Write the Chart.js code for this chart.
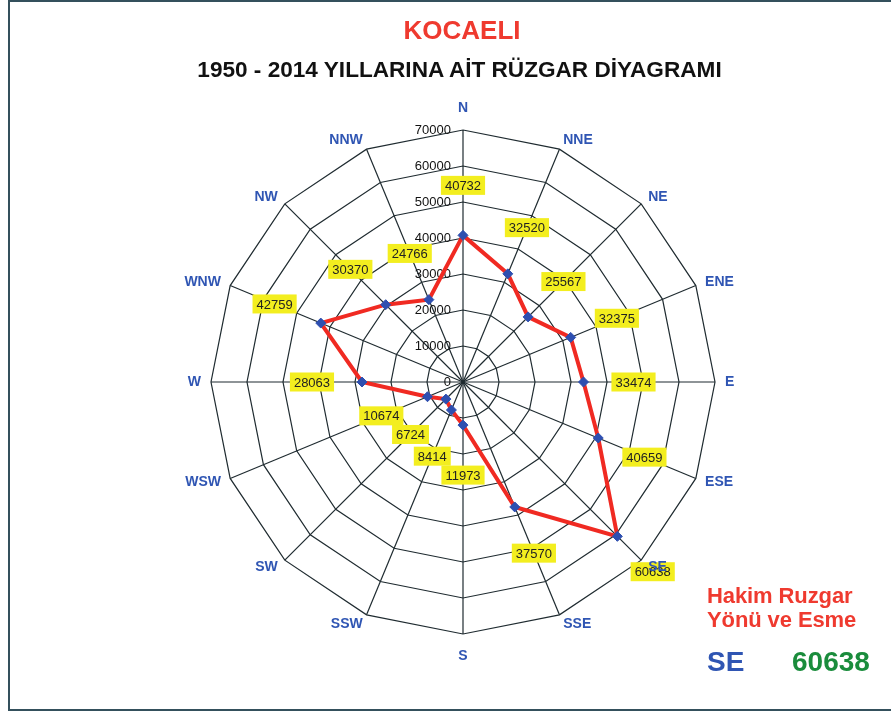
<!DOCTYPE html>
<html lang="tr">
<head>
<meta charset="utf-8">
<title>Kocaeli - Rüzgar Diyagramı</title>
<script src="https://cdn.jsdelivr.net/npm/chart.js"></script>
<style>
    body { margin: 0; background: #fff; font-family: "Liberation Sans", Arial, sans-serif; }
    #contenedor { position: relative; width: 891px; height: 713px; overflow: hidden; background: #fff; }
    #marco { position: absolute; left: 8px; top: 0; width: 920px; height: 711px; border: 2px solid #34505c; box-sizing: border-box; }
    #grafico { position: absolute; left: 0; top: 0; }
    .texto { position: absolute; font-weight: bold; white-space: nowrap; line-height: 1; }
    #titulo { left: 0; width: 924px; text-align: center; top: 17px; font-size: 26px; color: #ef3a2f; }
    #subtitulo { left: 0; width: 919px; text-align: center; top: 59px; font-size: 22.6px; color: #111; }
    #hakim1 { left: 707px; top: 585px; font-size: 22px; color: #ef3a2f; letter-spacing: -0.1px; }
    #hakim2 { left: 707px; top: 609px; font-size: 22px; color: #ef3a2f; letter-spacing: -0.1px; }
    #hakimYon { left: 707px; top: 648px; font-size: 28px; color: #2f55b3; }
    #hakimDeger { left: 792px; top: 648px; font-size: 28px; color: #1a8c3c; }
</style>
</head>
<body>
<div id="contenedor">
    <div id="marco"></div>
    <canvas id="grafico" width="891" height="713"></canvas>
    <div class="texto" id="titulo">KOCAELI</div>
    <div class="texto" id="subtitulo">1950 - 2014 YILLARINA AİT RÜZGAR DİYAGRAMI</div>
    <div class="texto" id="hakim1">Hakim Ruzgar</div>
    <div class="texto" id="hakim2">Yönü ve Esme</div>
    <div class="texto" id="hakimYon">SE</div>
    <div class="texto" id="hakimDeger">60638</div>
</div>
<script>
// Datos del diagrama (esme sayıları por dirección)
const direcciones = ['N', 'NNE', 'NE', 'ENE', 'E', 'ESE', 'SE', 'SSE', 'S', 'SSW', 'SW', 'WSW', 'W', 'WNW', 'NW', 'NNW'];
const esmeSayilari = [40732, 32520, 25567, 32375, 33474, 40659, 60638, 37570, 11973, 8414, 6724, 10674, 28063, 42759, 30370, 24766];
const marcasEje = [0, 10000, 20000, 30000, 40000, 50000, 60000, 70000];

const FUENTE = '"Liberation Sans", Arial, sans-serif';

// Etiquetas del eje radial, a la izquierda del eje N
const pluginMarcas = {
    id: 'marcasEje',
    beforeDatasetsDraw(chart) {
        const scale = chart.scales.r;
        const ctx = chart.ctx;
        ctx.save();
        ctx.font = '13px ' + FUENTE;
        ctx.fillStyle = '#111';
        ctx.textAlign = 'right';
        ctx.textBaseline = 'middle';
        marcasEje.forEach(v => {
            const d = scale.getDistanceFromCenterForValue(v);
            ctx.fillText(String(v), scale.xCenter - 12, scale.yCenter - d);
        });
        ctx.restore();
    }
};

// Cajas amarillas con el valor y nombres de las direcciones
const pluginEtiquetas = {
    id: 'etiquetas',
    afterDatasetsDraw(chart) {
        const scale = chart.scales.r;
        const ctx = chart.ctx;
        ctx.save();

        ctx.font = '13px ' + FUENTE;
        ctx.textAlign = 'center';
        ctx.textBaseline = 'middle';
        esmeSayilari.forEach((v, i) => {
            const r = scale.getDistanceFromCenterForValue(v);
            const p = scale.getPointPosition(i, r + 50);
            const texto = String(v);
            const w = ctx.measureText(texto).width + 8;
            const h = 19;
            ctx.fillStyle = '#f3ee1f';
            ctx.fillRect(p.x - w / 2, p.y - h / 2, w, h);
            ctx.fillStyle = '#222';
            ctx.fillText(texto, p.x, p.y + 1);
        });

        ctx.font = 'bold 14px ' + FUENTE;
        ctx.fillStyle = '#2f55b3';
        ctx.textBaseline = 'middle';
        const R = scale.drawingArea;
        direcciones.forEach((nombre, i) => {
            const grados = i * 360 / direcciones.length;
            let p;
            if (grados === 0 || grados === 180) {
                p = scale.getPointPosition(i, R + 22);
                ctx.textAlign = 'center';
            } else {
                p = scale.getPointPosition(i, R + 10);
                ctx.textAlign = grados < 180 ? 'left' : 'right';
            }
            ctx.fillText(nombre, p.x, p.y);
        });
        ctx.restore();
    }
};

function crearDiagrama() {
    const canvas = document.getElementById('grafico');
    if (!canvas) {
        console.error('No se encontró el canvas');
        return;
    }
    new Chart(canvas.getContext('2d'), {
        type: 'radar',
        data: {
            labels: direcciones,
            datasets: [{
                label: 'Esme',
                data: esmeSayilari,
                borderColor: '#f02a22',
                borderWidth: 4,
                backgroundColor: 'rgba(0,0,0,0)',
                fill: false,
                tension: 0,
                pointStyle: 'rectRot',
                pointRadius: 5,
                pointBackgroundColor: '#2e4fb0',
                pointBorderColor: '#2e4fb0',
                pointBorderWidth: 1
            }]
        },
        options: {
            responsive: false,
            animation: false,
            layout: {
                padding: { left: 211, right: 176, top: 130, bottom: 79 }
            },
            plugins: {
                legend: { display: false },
                tooltip: { enabled: false }
            },
            scales: {
                r: {
                    min: 0,
                    max: 70000,
                    beginAtZero: true,
                    ticks: { display: false, stepSize: 10000 },
                    pointLabels: { display: false },
                    grid: { color: '#1f2b30', lineWidth: 1.2, circular: false },
                    angleLines: { color: '#1f2b30', lineWidth: 1.2 }
                }
            }
        },
        plugins: [pluginMarcas, pluginEtiquetas]
    });
}

crearDiagrama();
</script>
</body>
</html>
